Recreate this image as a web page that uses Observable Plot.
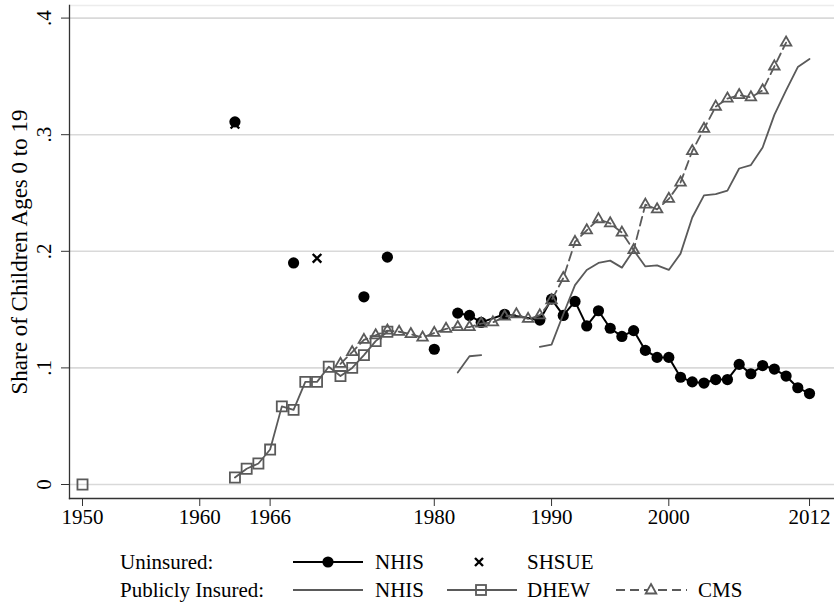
<!DOCTYPE html>
<html>
<head>
<meta charset="utf-8">
<script src="https://cdn.jsdelivr.net/npm/d3@7"></script>
<script src="https://cdn.jsdelivr.net/npm/@observablehq/plot@0.6"></script>
<style>
  html, body { margin: 0; padding: 0; background: #fff; }
  #wrap { width: 834px; height: 603px; position: relative; overflow: hidden; font-family: "Liberation Serif", "Times New Roman", serif; }
  #legend { display: block; }
</style>
</head>
<body>
<div id="wrap"></div>
<script>
// ---------- data ----------
const xTicks = [1950, 1960, 1966, 1980, 1990, 2000, 2012];
const yTicks = [0, 0.1, 0.2, 0.3, 0.4];
const yTickLabels = ["0", ".1", ".2", ".3", ".4"];
const yTitle = "Share of Children Ages 0 to 19";

// Uninsured, NHIS (early isolated surveys)
const unNhisEarlyYears = [1963, 1968, 1974, 1976, 1980];
const unNhisEarlyVals  = [0.311, 0.190, 0.161, 0.195, 0.116];
// Uninsured, NHIS (annual, connected)
const unNhisYears = [1982, 1983, 1984, 1986, 1989, 1990, 1991, 1992, 1993, 1994, 1995, 1996, 1997, 1998, 1999, 2000, 2001, 2002, 2003, 2004, 2005, 2006, 2007, 2008, 2009, 2010, 2011, 2012];
const unNhisVals  = [0.147, 0.145, 0.139, 0.146, 0.141, 0.159, 0.145, 0.157, 0.136, 0.149, 0.134, 0.127, 0.132, 0.115, 0.109, 0.109, 0.092, 0.088, 0.087, 0.090, 0.090, 0.103, 0.095, 0.102, 0.099, 0.093, 0.083, 0.078];
// Uninsured, SHSUE
const shsueYears = [1963, 1970];
const shsueVals  = [0.309, 0.194];

// Publicly insured, NHIS (null = missing year)
const pubNhisYears = [1982, 1983, 1984, 1985, 1986, 1987, 1988, 1989, 1990, 1991, 1992, 1993, 1994, 1995, 1996, 1997, 1998, 1999, 2000, 2001, 2002, 2003, 2004, 2005, 2006, 2007, 2008, 2009, 2010, 2011, 2012];
const pubNhisVals  = [0.096, 0.110, 0.111, null, null, null, null, 0.118, 0.120, 0.146, 0.171, 0.184, 0.190, 0.192, 0.186, 0.201, 0.187, 0.188, 0.184, 0.198, 0.229, 0.248, 0.249, 0.252, 0.271, 0.274, 0.289, 0.317, 0.338, 0.358, 0.365];
// Publicly insured, DHEW (1950 point stands alone)
const dhewYears = [1950, 1963, 1964, 1965, 1966, 1967, 1968, 1969, 1970, 1971, 1972, 1973, 1974, 1975, 1976];
const dhewVals  = [0.000, 0.006, 0.0135, 0.018, 0.030, 0.067, 0.064, 0.088, 0.088, 0.101, 0.093, 0.100, 0.111, 0.123, 0.131];
// Publicly insured, CMS
const cmsYears = [1972, 1973, 1974, 1975, 1976, 1977, 1978, 1979, 1980, 1981, 1982, 1983, 1984, 1985, 1986, 1987, 1988, 1989, 1990, 1991, 1992, 1993, 1994, 1995, 1996, 1997, 1998, 1999, 2000, 2001, 2002, 2003, 2004, 2005, 2006, 2007, 2008, 2009, 2010];
const cmsVals  = [0.1035, 0.1135, 0.124, 0.128, 0.132, 0.131, 0.129, 0.126, 0.130, 0.1335, 0.135, 0.135, 0.138, 0.139, 0.144, 0.146, 0.142, 0.145, 0.158, 0.177, 0.208, 0.218, 0.2275, 0.224, 0.216, 0.201, 0.240, 0.236, 0.245, 0.259, 0.286, 0.305, 0.324, 0.331, 0.334, 0.332, 0.338, 0.3585, 0.379];

// ---------- tables ----------
const zip = (xs, ys) => xs.map((x, i) => ({x, y: ys[i]}));
const unEarly = zip(unNhisEarlyYears, unNhisEarlyVals);
const unLate = zip(unNhisYears, unNhisVals);
const shsue = zip(shsueYears, shsueVals);
const pubNhis = zip(pubNhisYears, pubNhisVals);
const dhew = zip(dhewYears, dhewVals);
const dhewLine = dhew.filter(d => d.x >= 1963);
const cms = zip(cmsYears, cmsVals);
const yTickData = yTicks.map((v, i) => ({v, label: yTickLabels[i]}));

const GRAY = "#5a5a5a";
const FONT = "'Liberation Serif', 'Times New Roman', serif";

const chart = Plot.plot({
  width: 834,
  height: 540,
  marginLeft: 69,
  marginRight: 0,
  marginTop: 5,
  marginBottom: 42,
  style: {fontFamily: FONT, fontSize: "21px", background: "white", color: "black", overflow: "visible"},
  x: {domain: [1948.891, 2014.13], axis: null},
  y: {domain: [-0.012, 0.4108], axis: null},
  marks: [
    Plot.ruleY([0.4108], {stroke: "#ececec", strokeWidth: 1.5}),
    Plot.ruleY(yTicks, {stroke: "#d9d9d9", strokeWidth: 1.6}),
    Plot.frame({anchor: "bottom", stroke: "#333", strokeWidth: 1.3}),
    Plot.frame({anchor: "left", stroke: "#333", strokeWidth: 1.3}),
    Plot.axisX(xTicks, {anchor: "bottom", label: null, tickSize: 8, tickPadding: 3, tickFormat: d => String(d), stroke: "#333", fill: "black", fontSize: 21}),
    Plot.axisY(yTicks, {anchor: "left", label: null, tickSize: 8, tickFormat: () => "", stroke: "#333"}),
    Plot.text(yTickData, {y: "v", text: "label", frameAnchor: "left", textAnchor: "middle", dx: -25, rotate: -90, fontSize: 21, fill: "black"}),
    Plot.text([yTitle], {frameAnchor: "left", textAnchor: "middle", dx: -50, rotate: -90, fontSize: 23, fill: "black"}),

    // Uninsured NHIS
    Plot.dot(unEarly, {x: "x", y: "y", r: 5.6, fill: "black", stroke: "none"}),
    Plot.line(unLate, {x: "x", y: "y", stroke: "black", strokeWidth: 2}),
    Plot.dot(unLate, {x: "x", y: "y", r: 5.6, fill: "black", stroke: "none"}),
    // SHSUE
    Plot.dot(shsue, {x: "x", y: "y", symbol: "times", r: 4, stroke: "black", strokeWidth: 2.4}),
    // Publicly insured NHIS
    Plot.line(pubNhis, {x: "x", y: "y", stroke: GRAY, strokeWidth: 1.8}),
    // DHEW
    Plot.line(dhewLine, {x: "x", y: "y", stroke: GRAY, strokeWidth: 1.8}),
    Plot.dot(dhew, {x: "x", y: "y", symbol: "square", r: 5.7, stroke: GRAY, strokeWidth: 1.8, fill: "none"}),
    // CMS
    Plot.line(cms, {x: "x", y: "y", stroke: GRAY, strokeWidth: 1.8, strokeDasharray: "9,5"}),
    Plot.dot(cms, {x: "x", y: "y", symbol: "triangle", r: 3.9, stroke: GRAY, strokeWidth: 1.8, fill: "none"})
  ]
});

const wrap = document.getElementById("wrap");
wrap.appendChild(chart);

// ---------- legend (below the chart) ----------
const ns = "http://www.w3.org/2000/svg";
const leg = document.createElementNS(ns, "svg");
leg.setAttribute("id", "legend");
leg.setAttribute("width", 834);
leg.setAttribute("height", 63);
leg.style.fontFamily = FONT;
leg.style.fontSize = "21px";
function el(tag, attrs) {
  const e = document.createElementNS(ns, tag);
  for (const k in attrs) e.setAttribute(k, attrs[k]);
  leg.appendChild(e);
  return e;
}
function txt(x, y, s) {
  const t = el("text", {x, y, "dominant-baseline": "central", fill: "black"});
  t.textContent = s;
}
const r1 = 22, r2 = 50;
txt(120, r1, "Uninsured:");
txt(120, r2, "Publicly Insured:");
// Uninsured NHIS
el("line", {x1: 293, x2: 363, y1: r1, y2: r1, stroke: "black", "stroke-width": 2});
el("circle", {cx: 328, cy: r1, r: 5.6, fill: "black"});
txt(375, r1, "NHIS");
// SHSUE
el("path", {d: `M${479-4},${r1-4}L${479+4},${r1+4}M${479-4},${r1+4}L${479+4},${r1-4}`, stroke: "black", "stroke-width": 2.4});
txt(527, r1, "SHSUE");
// Public NHIS
el("line", {x1: 293, x2: 363, y1: r2, y2: r2, stroke: GRAY, "stroke-width": 1.8});
txt(375, r2, "NHIS");
// DHEW
el("line", {x1: 447, x2: 517, y1: r2, y2: r2, stroke: GRAY, "stroke-width": 1.8});
el("rect", {x: 481 - 5, y: r2 - 5, width: 10, height: 10, stroke: GRAY, "stroke-width": 1.8, fill: "none"});
txt(527, r2, "DHEW");
// CMS
el("line", {x1: 616, x2: 687, y1: r2, y2: r2, stroke: GRAY, "stroke-width": 1.8, "stroke-dasharray": "9,5"});
el("path", {d: `M651,${r2-6}L${651+5.3},${r2+3.5}L${651-5.3},${r2+3.5}Z`, stroke: GRAY, "stroke-width": 1.8, fill: "white"});
txt(698, r2, "CMS");
wrap.appendChild(leg);
</script>
</body>
</html>
